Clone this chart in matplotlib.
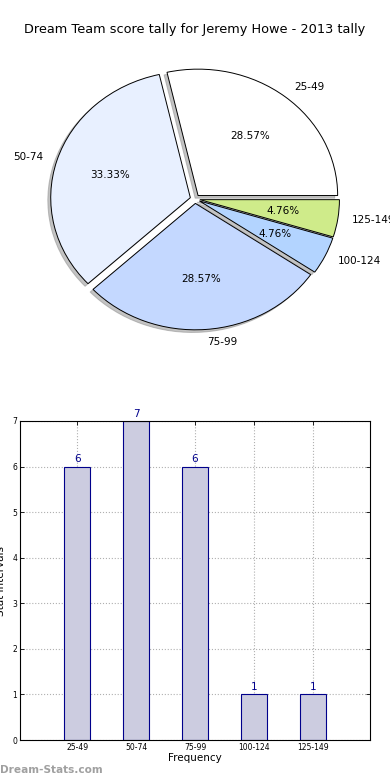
import matplotlib
matplotlib.use("Agg")
import matplotlib.pyplot as plt

title = "Dream Team score tally for Jeremy Howe - 2013 tally"
categories = ["25-49", "50-74", "75-99", "100-124", "125-149"]
counts = [6, 7, 6, 1, 1]
pie_colors = ["#ffffff", "#e8f0ff", "#c4d8ff", "#b3d4ff", "#cfeb8a"]
explode = [0.035, 0.035, 0.035, 0.035, 0.035]
yticks = [0, 1, 2, 3, 4, 5, 6, 7]

fig = plt.figure(figsize=(3.9, 7.8), dpi=100)
fig.text(0.5, 1 - 30 / 780, title, ha="center", va="center", fontsize=9.3)

# Pie
axp = fig.add_axes([20.5 / 390, 1 - 357 / 780, 349 / 390, 316 / 780])
wedges, texts, autotexts = axp.pie(
    counts, labels=categories, colors=pie_colors, explode=explode,
    autopct="%1.2f%%", shadow={"ox": -0.015, "oy": -0.015, "color": "#888888"},
    startangle=0, counterclock=True,
    labeldistance=1.1, pctdistance=0.6,
    wedgeprops=dict(edgecolor="black", linewidth=0.7),
    textprops=dict(fontsize=7.5))
axp.set_aspect("auto")
axp.set_xlim(-1.25, 1.25)
axp.set_ylim(-1.25, 1.25)
axp.axis("off")

# Bars
axb = fig.add_axes([20 / 390, 1 - 740 / 780, 350 / 390, 319 / 780])
xs = list(range(len(categories)))
bars = axb.bar(xs, counts, width=0.45, color="#ccccE0", edgecolor="#00008b", linewidth=0.8, zorder=2)
for x, c in zip(xs, counts):
    axb.text(x, c + 0.05, str(c), ha="center", va="bottom", color="#00008b", fontsize=7.5)
axb.set_xlim(-0.97, 4.97)
axb.set_ylim(0, 7)
axb.set_xticks(xs)
axb.set_xticklabels(categories, fontsize=5.5)
axb.set_yticks(yticks)
axb.set_yticklabels([str(t) for t in yticks], fontsize=5.5)
axb.tick_params(direction="in", top=True, right=True, length=3, width=0.6, pad=2)
axb.grid(True, linestyle=":", color="#b0b0b0", linewidth=0.8, zorder=0)
axb.set_axisbelow(True)
axb.set_xlabel("Frequency", fontsize=7.5, labelpad=1)
axb.set_ylabel("Stat Intervals", fontsize=7.5, labelpad=2)
axb.yaxis.set_label_coords(-0.04, 0.5)
for s in axb.spines.values():
    s.set_linewidth(0.8)

fig.text(0.0, 1 - 770 / 780, "Dream-Stats.com", ha="left", va="center",
         color="#a0a0a0", fontsize=7.6, fontweight="bold")

fig.savefig("out.png", dpi=100)
